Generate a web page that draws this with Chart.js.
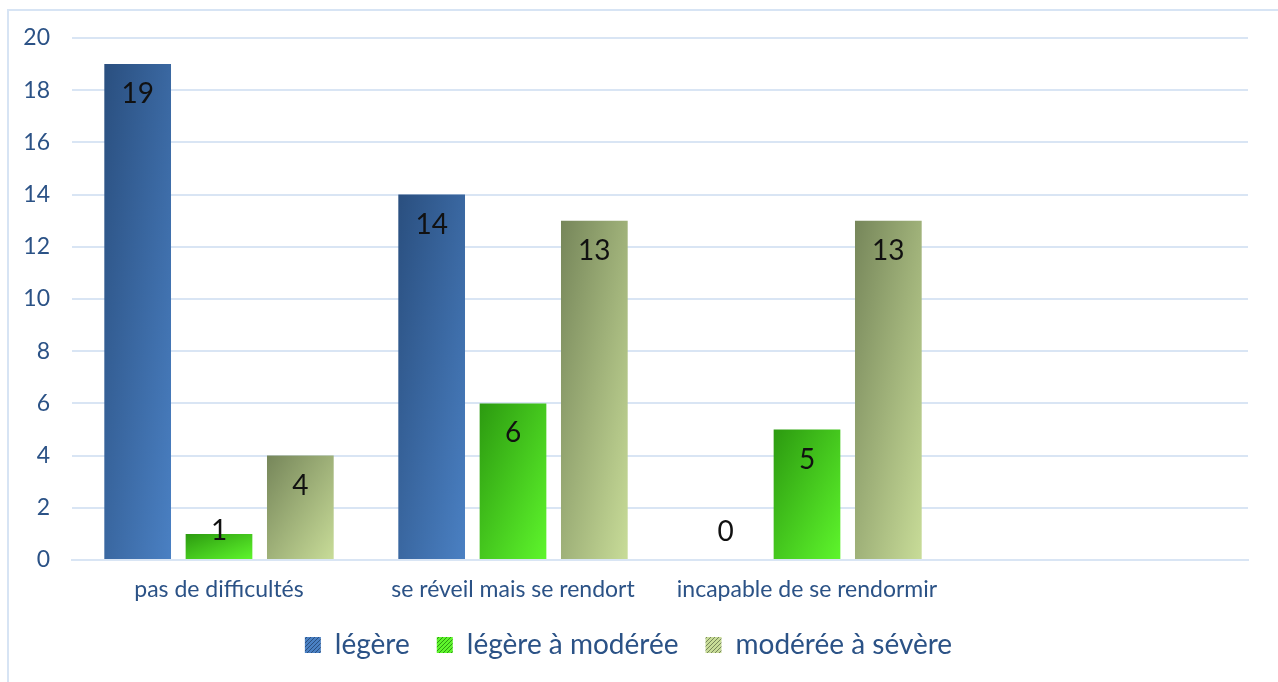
<!DOCTYPE html>
<html>
<head>
<meta charset="utf-8">
<script src="https://cdn.jsdelivr.net/npm/chart.js@4/dist/chart.umd.min.js"></script>
<style>
  body { margin: 0; background: #fff; }
  #cadre {
    position: absolute; left: 7px; top: 9px;
    width: 1269px; height: 671px;
    border-left: 2px solid #d7e4f4; border-top: 2px solid #d7e4f4; border-right: 2px solid #d7e4f4;
  }
</style>
</head>
<body>
<div id="cadre"><canvas id="graphique" width="1269" height="671"></canvas></div>
<script>
  // donnees du graphique
  const categories = ['pas de difficultés', 'se réveil mais se rendort', 'incapable de se rendormir', ''];
  const legere = [19, 14, 0, null];
  const legereModeree = [1, 6, 5, null];
  const modereeSevere = [4, 13, 13, null];
  const seriesNoms = ['légère', 'légère à modérée', 'modérée à sévère'];

  const bleuTexte = '#2b5286';
  const grille = '#d9e5f4';
  const police = 'Lato, "DejaVu Sans", sans-serif';

  // degrade par barre : sombre en haut a gauche, clair en bas a droite
  function degrade(c0, c1) {
    return function (ctx) {
      if (ctx.type !== 'data') return c1;
      const el = ctx.chart.getDatasetMeta(ctx.datasetIndex).data[ctx.dataIndex];
      if (!el || !isFinite(el.x) || !isFinite(el.width) || !isFinite(el.base)) return c1;
      const w = el.width, h = Math.max(Math.abs(el.base - el.y), 1);
      const s = 2 / (1 / (w * w) + 1 / (h * h));
      const x0 = el.x - w / 2;
      const g = ctx.chart.ctx.createLinearGradient(x0, el.y, x0 + s / w, el.y + s / h);
      g.addColorStop(0, c0);
      g.addColorStop(1, c1);
      return g;
    };
  }

  // petit motif hachure pour les carres de la legende
  function motif(c0, c1) {
    const p = document.createElement('canvas');
    p.width = 4; p.height = 4;
    const pc = p.getContext('2d');
    pc.fillStyle = c1; pc.fillRect(0, 0, 4, 4);
    pc.strokeStyle = c0; pc.lineWidth = 1;
    pc.beginPath(); pc.moveTo(0, 4); pc.lineTo(4, 0); pc.stroke();
    return document.createElement('canvas').getContext('2d').createPattern(p, 'repeat');
  }

  const couleurs = [
    ['#2a4f7f', '#4a80c3'],
    ['#2c9a10', '#5ef52c'],
    ['#76865a', '#c8dc98']
  ];

  // etiquettes de valeur (a l'interieur, en haut de la barre)
  const etiquettes = {
    id: 'etiquettes',
    afterDatasetsDraw(chart) {
      const c = chart.ctx;
      c.save();
      c.font = '28px ' + police;
      c.fillStyle = '#111';
      c.textAlign = 'center';
      c.textBaseline = 'middle';
      chart.data.datasets.forEach((ds, i) => {
        chart.getDatasetMeta(i).data.forEach((bar, j) => {
          const v = ds.data[j];
          if (v === null) return;
          const y = Math.min(bar.y + 30, bar.base - 28);
          c.fillText(String(v), bar.x, y);
        });
      });
      c.restore();
    }
  };

  const valeurs = [legere, legereModeree, modereeSevere];

  const ctx = document.getElementById('graphique').getContext('2d');
  const graphique = new Chart(ctx, {
    type: 'bar',
    data: {
      labels: categories,
      datasets: valeurs.map((d, i) => ({
        label: seriesNoms[i],
        data: d,
        backgroundColor: degrade(couleurs[i][0], couleurs[i][1]),
        borderWidth: 0,
        categoryPercentage: 0.83,
        barPercentage: 0.82
      }))
    },
    options: {
      responsive: false,
      animation: false,
      layout: { padding: { left: 0, right: 30, top: 27, bottom: 13 } },
      plugins: {
        tooltip: { enabled: false },
        legend: {
          position: 'bottom',
          labels: {
            color: bleuTexte,
            font: { family: police, size: 28 },
            boxWidth: 16,
            boxHeight: 16,
            padding: 27,
            generateLabels(chart) {
              return chart.data.datasets.map((ds, i) => ({
                text: ds.label,
                fillStyle: motif(couleurs[i][0], couleurs[i][1]),
                strokeStyle: 'transparent',
                lineWidth: 0,
                fontColor: bleuTexte,
                datasetIndex: i
              }));
            }
          }
        }
      },
      scales: {
        x: {
          afterFit(s) { s.height = 44; },
          grid: { display: false, drawTicks: false },
          border: { color: grille, width: 2 },
          ticks: { color: bleuTexte, font: { family: police, size: 23 }, padding: 16, maxRotation: 0 }
        },
        y: {
          min: 0,
          max: 20,
          afterFit(s) { s.width = 63; s.paddingTop = 0; s.paddingBottom = 0; },
          grid: { color: grille, lineWidth: 2, drawTicks: false },
          border: { display: false },
          ticks: { stepSize: 2, color: bleuTexte, font: { family: police, size: 23 }, padding: 22 }
        }
      }
    },
    plugins: [etiquettes]
  });
  // deuxieme passage pour que les degrades connaissent la position des barres
  graphique.update();
</script>
</body>
</html>
